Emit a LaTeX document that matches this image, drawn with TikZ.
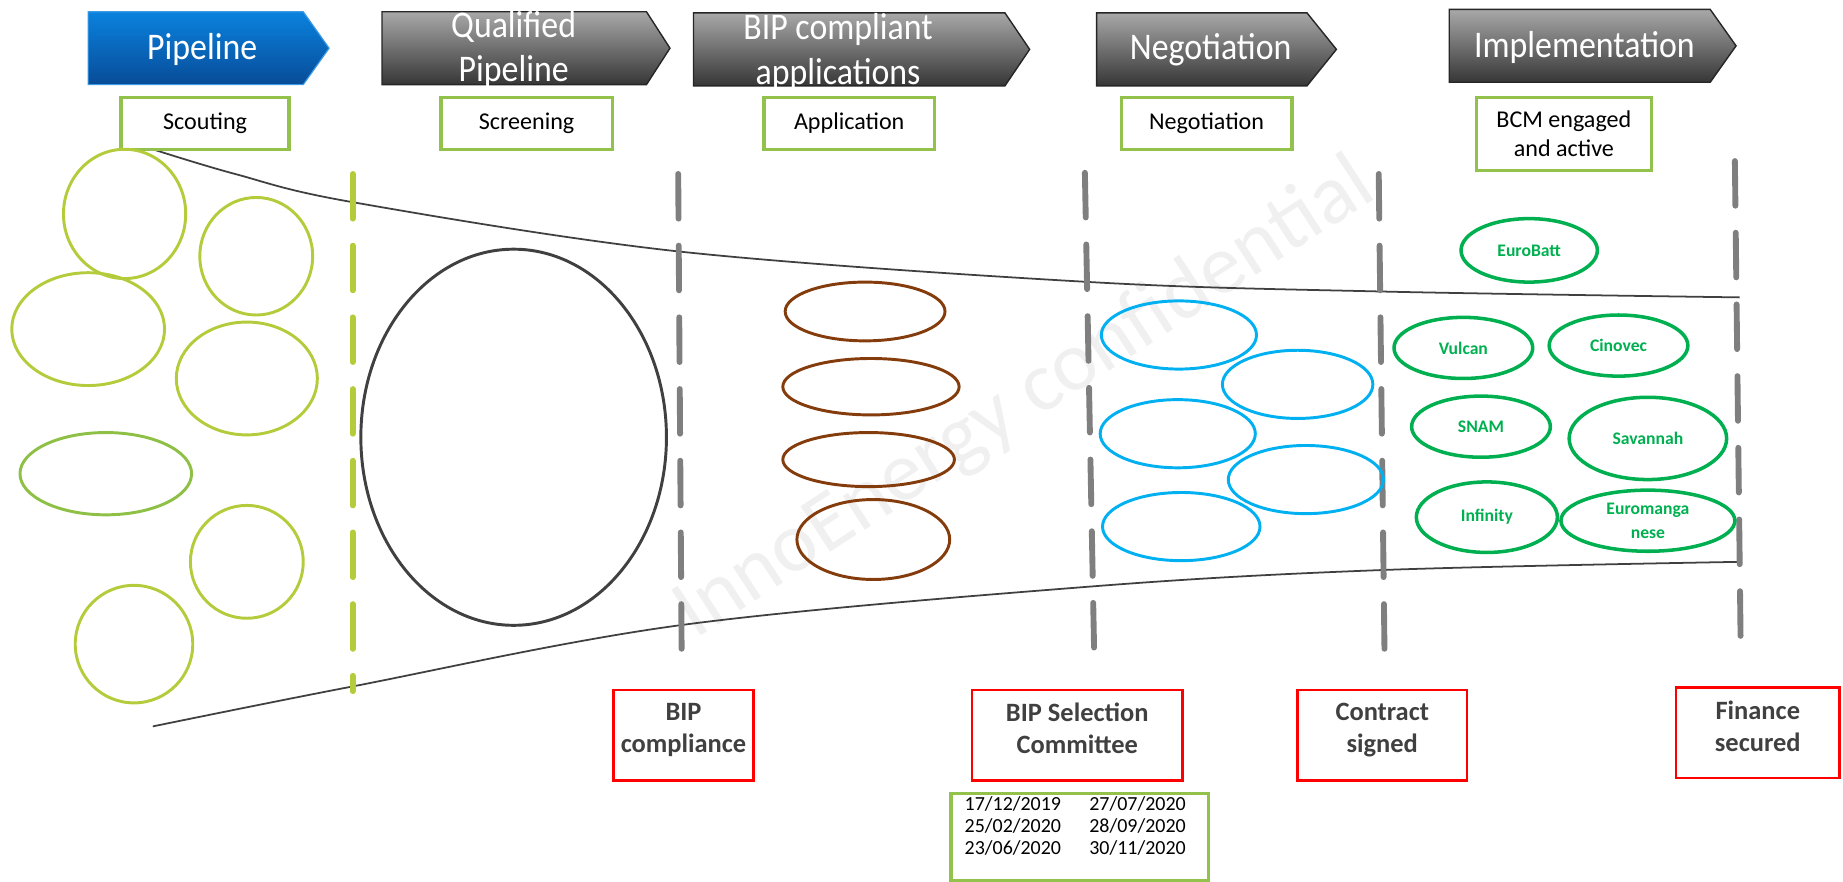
\documentclass[tikz,border=0pt]{standalone}
\usepackage{fontspec}
\setmainfont{Carlito}
\newfontfamily\hdrfont[FakeStretch=0.9]{Carlito}
\usetikzlibrary{shapes.geometric}
\definecolor{lgreen}{HTML}{B4CC3C}
\definecolor{lgreenB}{HTML}{8EC045}
\definecolor{boxgreen}{HTML}{92C24C}
\definecolor{cgreen}{HTML}{00B050}
\definecolor{cblue}{HTML}{00B0F0}
\definecolor{brown}{HTML}{843C0C}
\definecolor{dark}{HTML}{404040}
\definecolor{dashgray}{HTML}{7F7F7F}
\definecolor{bluetop}{HTML}{0A82DE}
\definecolor{bluebot}{HTML}{084C98}
\definecolor{graytop}{HTML}{A8A8A8}
\definecolor{graybot}{HTML}{363636}
\begin{document}
\begin{tikzpicture}[x=1pt,y=-1pt,
  hdr/.style={text=white, align=center, font=\hdrfont\fontsize{32}{38}\selectfont},
  bluearrow/.style={draw=bluetop!80!white, line width=1pt, top color=bluetop, bottom color=bluebot},
  grayarrow/.style={draw=black!85, line width=1.2pt, top color=graytop, bottom color=graybot},
  gbox/.style={draw=boxgreen, line width=3pt, fill=white, inner sep=0pt, align=center, font=\fontsize{20.5}{25}\selectfont},
  redbox/.style={draw=red, line width=2pt, inner sep=0pt},
  redtxt/.style={text=dark, align=center, font=\bfseries\fontsize{22.5}{27}\selectfont, inner sep=0pt},
  ell/.style={ellipse, draw=#1, line width=2.5pt, inner sep=0pt},
  comp/.style={ellipse, draw=cgreen, line width=3pt, inner sep=0pt, text=cgreen, align=center, font=\bfseries\fontsize{15}{20}\selectfont},
  vdash/.style={draw=#1, line width=5pt, line cap=round, dash pattern=on 38pt off 23pt},
  funnel/.style={draw=dark, line width=1.5pt}
]
\useasboundingbox (0,0) rectangle (1568,750);

% watermark
\node[rotate=33, text=black!6, font=\fontsize{72}{72}\selectfont] (wm) at (872,340) {InnoEnergy confidential};

% header arrows
\path[bluearrow] (75,10) -- (258,10) -- (280,41) -- (258,72) -- (75,72) -- cycle;
\path[grayarrow] (325,10) -- (550,10) -- (570,41) -- (550,72) -- (325,72) -- cycle;
\path[grayarrow] (590,11) -- (855,11) -- (876,42) -- (855,73) -- (590,73) -- cycle;
\path[grayarrow] (933,11) -- (1112,11) -- (1137,42) -- (1112,73) -- (933,73) -- cycle;
\path[grayarrow] (1233,8) -- (1455,8) -- (1477,39) -- (1455,70) -- (1233,70) -- cycle;
\node[hdr] (h1) at (172,42) {Pipeline};
\node[hdr] (h2) at (437,42) {Qualified\\Pipeline};
\node[hdr] (h3) at (713,44) {BIP compliant\\applications};
\node[hdr] (h4) at (1030,42) {Negotiation};
\node[hdr] (h5) at (1348,40) {Implementation};

% funnel
\draw[funnel] plot[smooth, tension=0.55] coordinates {(130,127) (200,148) (300,172) (578,214) (928,240) (1175,248) (1480,253)};
\draw[funnel] plot[smooth, tension=0.55] coordinates {(130,618) (300,584) (578,532) (928,499) (1175,485) (1480,478)};

% dashed separators
\draw[vdash=lgreen] (300,148) -- (300,588);
\draw[vdash=dashgray] (577,148) -- (580,565);
\draw[vdash=dashgray] (923,147) -- (931,561);
\draw[vdash=dashgray] (1173,148) -- (1178,562);
\draw[vdash=dashgray] (1476,137) -- (1481,555);

% stage boxes
\node[gbox, minimum width=143, minimum height=44] (b1) at (174.5,105) {Scouting};
\node[gbox, minimum width=146, minimum height=44] (b2) at (448,105) {Screening};
\node[gbox, minimum width=145, minimum height=44] (b3) at (722.5,105) {Application};
\node[gbox, minimum width=145, minimum height=44] (b4) at (1026.5,105) {Negotiation};
\node[gbox, minimum width=149, minimum height=62] (b5) at (1330.5,114) {BCM engaged\\and active};

% pipeline ellipses
\node[ell=lgreen, minimum width=104, minimum height=110] (p1) at (106,182) {};
\node[ell=lgreen, minimum width=96, minimum height=100] (p2) at (218,218) {};
\node[ell=lgreen, minimum width=130, minimum height=96] (p3) at (75,280) {};
\node[ell=lgreen, minimum width=120, minimum height=96] (p4) at (210,322) {};
\node[ell=lgreenB, minimum width=146, minimum height=70] (p5) at (90,403) {};
\node[ell=lgreen, minimum width=96, minimum height=96] (p6) at (210,478) {};
\node[ell=lgreen, minimum width=100, minimum height=100] (p7) at (114,548) {};

% qualified pipeline
\node[ell=dark, minimum width=260, minimum height=320] (q1) at (437,372) {};

% applications
\node[ell=brown, minimum width=136, minimum height=50] (a1) at (736,265) {};
\node[ell=brown, minimum width=150, minimum height=48] (a2) at (741,329) {};
\node[ell=brown, minimum width=146, minimum height=46] (a3) at (739,391) {};
\node[ell=brown, minimum width=130, minimum height=68] (a4) at (743,459) {};

% negotiation
\node[ell=cblue, minimum width=132, minimum height=58] (n1) at (1003,285) {};
\node[ell=cblue, minimum width=128, minimum height=58] (n2) at (1104,327) {};
\node[ell=cblue, minimum width=132, minimum height=58] (n3) at (1002,369) {};
\node[ell=cblue, minimum width=132, minimum height=58] (n4) at (1111,408) {};
\node[ell=cblue, minimum width=134, minimum height=58] (n5) at (1005,448) {};

% implementation
\node[comp, minimum width=116, minimum height=54] (c1) at (1301,213) {EuroBatt};
\node[comp, minimum width=118, minimum height=52] (c2) at (1245,296) {Vulcan};
\node[comp, minimum width=118, minimum height=52] (c3) at (1377,294) {Cinovec};
\node[comp, minimum width=118, minimum height=52] (c4) at (1260,363) {SNAM};
\node[comp, minimum width=134, minimum height=70] (c5) at (1402,373) {Savannah};
\node[comp, minimum width=120, minimum height=60] (c6) at (1265,440) {Infinity};
\node[comp, minimum width=148, minimum height=52] (c7) at (1402,443) {Euromanga\\nese};

% milestones
\node[redbox, minimum width=119, minimum height=77] (r1) at (581.5,625.5) {};
\node[redtxt, anchor=north] (rt1) at ([yshift=-12pt]r1.north) {BIP\\compliance};
\node[redbox, minimum width=179, minimum height=77] (r2) at (916.5,625.5) {};
\node[redtxt, anchor=north] (rt2) at ([yshift=-12pt]r2.north) {BIP Selection\\Committee};
\node[redbox, minimum width=144, minimum height=77] (r3) at (1176,625.5) {};
\node[redtxt, anchor=north] (rt3) at ([yshift=-12pt]r3.north) {Contract\\signed};
\node[redbox, minimum width=139, minimum height=77] (r4) at (1495.5,623.5) {};
\node[redtxt, anchor=north] (rt4) at ([yshift=-12pt]r4.north) {Finance\\secured};

% dates
\node[draw=boxgreen, line width=3pt, minimum width=219, minimum height=74, inner sep=0pt] (d) at (918.5,712) {};
\node[anchor=north west, inner sep=0pt, font=\fontsize{17}{18.5}\selectfont] (dt) at ([xshift=13pt,yshift=-3pt]d.north west)
  {\begin{tabular}{@{}l@{\hspace{24pt}}l@{}}17/12/2019 & 27/07/2020\\25/02/2020 & 28/09/2020\\23/06/2020 & 30/11/2020\end{tabular}};
\end{tikzpicture}
\end{document}
